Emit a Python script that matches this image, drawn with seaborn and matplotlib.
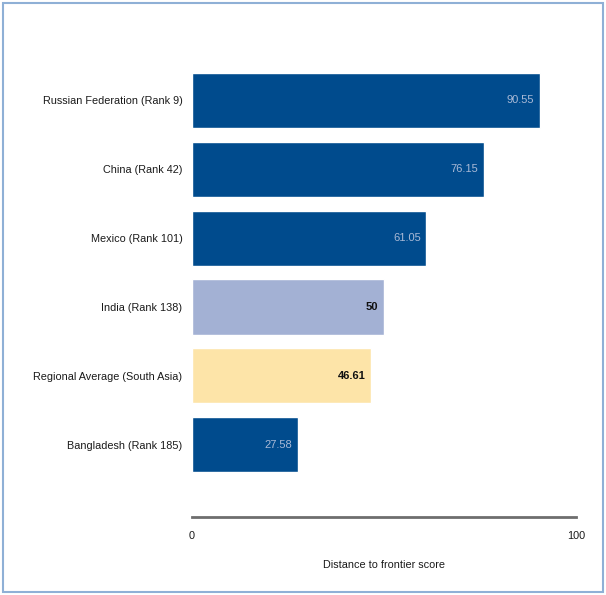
import matplotlib
matplotlib.use("Agg")
import pandas as pd
import seaborn as sns
import matplotlib.pyplot as plt
from matplotlib.patches import Rectangle

labels = [
    "Russian Federation (Rank 9)",
    "China (Rank 42)",
    "Mexico (Rank 101)",
    "India (Rank 138)",
    "Regional Average (South Asia)",
    "Bangladesh (Rank 185)",
]
scores = [90.55, 76.15, 61.05, 50, 46.61, 27.58]
score_text = ["90.55", "76.15", "61.05", "50", "46.61", "27.58"]
bar_colors = ["#004b8d", "#004b8d", "#004b8d", "#a3b1d4", "#fde4a8", "#004b8d"]
text_colors = ["#a9b9d6", "#a9b9d6", "#a9b9d6", "#111111", "#111111", "#a9b9d6"]

df = pd.DataFrame({"label": labels, "score": scores})

sns.set_style("white")
plt.rcParams["font.family"] = ["Liberation Sans", "DejaVu Sans"]

fig = plt.figure(figsize=(6.06, 5.95), dpi=100)
ax = fig.add_axes([192 / 606, 1 - 517 / 595, 384 / 606, 451 / 595])

sns.barplot(
    data=df,
    x="score",
    y="label",
    hue="label",
    palette=dict(zip(labels, bar_colors)),
    saturation=1,
    orient="h",
    width=0.8,
    legend=False,
    ax=ax,
)

# value labels inside the bar ends
for i, (v, t, c) in enumerate(zip(scores, score_text, text_colors)):
    ax.text(v - 1.5, i, t, ha="right", va="center", fontsize=8, color=c,
            fontweight="bold" if c == "#111111" else "normal")

ax.set_xlim(0, 100)
ax.set_ylim(6.05, -0.5)
ax.set_xticks([0, 100])
ax.set_xticklabels(["0", "100"])
ax.tick_params(axis="both", length=0, labelsize=7.8, labelcolor="#1a1a1a")
ax.tick_params(axis="x", pad=10)
ax.tick_params(axis="y", pad=7)
ax.set_ylabel("")
ax.set_xlabel("Distance to frontier score", fontsize=7.8, color="#1a1a1a", labelpad=14)

for s in ["top", "right", "left"]:
    ax.spines[s].set_visible(False)
ax.spines["bottom"].set_color("#6e6e6e")
ax.spines["bottom"].set_linewidth(2)

# light blue frame round the whole picture
fig.patches.append(Rectangle((3 / 606, 3 / 595), 600 / 606, 589 / 595,
                             transform=fig.transFigure, fill=False,
                             edgecolor="#8fb0d6", linewidth=1.5))

fig.savefig("out.png", dpi=100)
